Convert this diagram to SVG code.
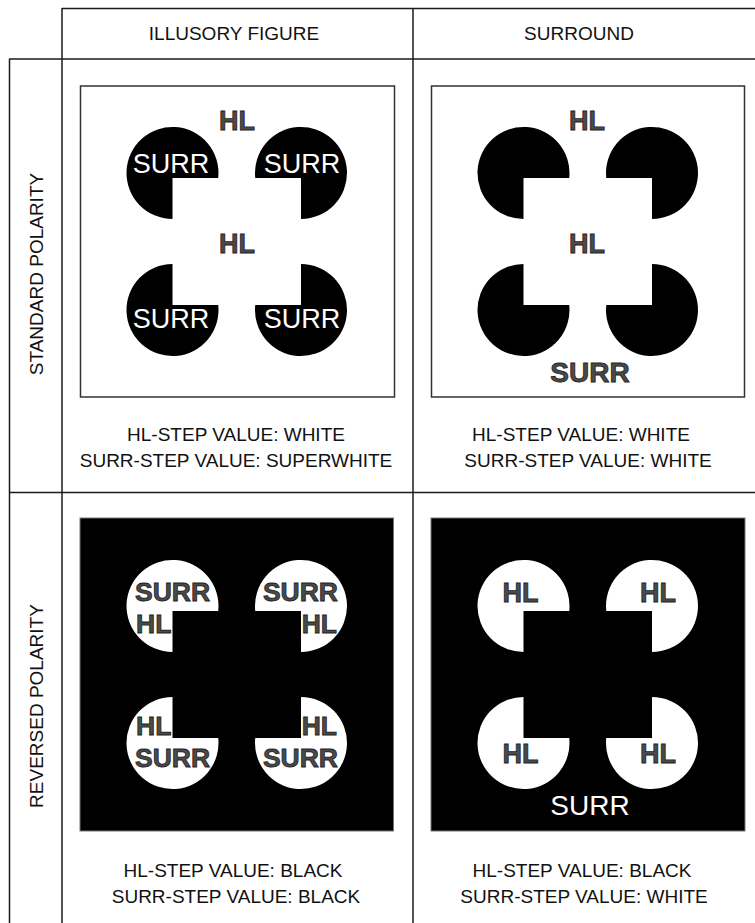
<svg xmlns="http://www.w3.org/2000/svg" xmlns:xlink="http://www.w3.org/1999/xlink" width="755" height="923" viewBox="0 0 755 923">
<style>
.grid line{stroke:#1a1a1a;stroke-width:1.5}
.lbl{font-family:"Liberation Sans",Arial,sans-serif;font-size:19px;fill:#111;text-anchor:middle}
.wbox{fill:#fff;stroke:#333;stroke-width:1.5}
.bbox{fill:#000;stroke:#777;stroke-width:1}
.dk{font-family:"Liberation Sans",Arial,sans-serif;font-weight:bold;fill:#4a4a4a;stroke:#1e1e1e;stroke-width:0.8}
.wt{font-family:"Liberation Sans",Arial,sans-serif;fill:#fff}
.m{text-anchor:middle}
.s{text-anchor:start}
.e{text-anchor:end}
</style>
<defs>
<path id="pac" d="M0,5 H45.73 A46,46 0 1 0 0,46 Z"/>
</defs>
<rect width="755" height="923" fill="#fff"/>
<g id="grid" class="grid">
<line x1="62" y1="8.5" x2="755" y2="8.5"/>
<line x1="9" y1="59" x2="755" y2="59"/>
<line x1="9.5" y1="59" x2="9.5" y2="923"/>
<line x1="62" y1="8" x2="62" y2="923"/>
<line x1="413" y1="8" x2="413" y2="923"/>
<line x1="9" y1="492.5" x2="755" y2="492.5"/>
</g>
<g id="headers">
<text class="lbl" x="234" y="40">ILLUSORY FIGURE</text>
<text class="lbl" x="579" y="40">SURROUND</text>
<text class="lbl" transform="translate(43,274) rotate(-90)">STANDARD POLARITY</text>
<text class="lbl" transform="translate(43,706) rotate(-90)">REVERSED POLARITY</text>
</g>
<g id="standard-illusory">
<rect class="wbox" x="80.5" y="86" width="314" height="311"/>
<use xlink:href="#pac" transform="translate(172.5,173)"/>
<use xlink:href="#pac" transform="translate(301,173) scale(-1,1)"/>
<use xlink:href="#pac" transform="translate(172.5,310) scale(1,-1)"/>
<use xlink:href="#pac" transform="translate(301,310) scale(-1,-1)"/>
<text class="dk m" x="237" y="130" font-size="27">HL</text>
<text class="dk m" x="237" y="253" font-size="27">HL</text>
<text class="wt m" x="171" y="173" font-size="27">SURR</text>
<text class="wt m" x="302" y="173" font-size="27">SURR</text>
<text class="wt m" x="171" y="328" font-size="27">SURR</text>
<text class="wt m" x="302" y="328" font-size="27">SURR</text>
<text class="lbl" x="236" y="441">HL-STEP VALUE: WHITE</text>
<text class="lbl" x="236" y="467">SURR-STEP VALUE: SUPERWHITE</text>
</g>
<g id="standard-surround">
<rect class="wbox" x="431.5" y="86" width="313" height="311"/>
<use xlink:href="#pac" transform="translate(523.5,173)"/>
<use xlink:href="#pac" transform="translate(652,173) scale(-1,1)"/>
<use xlink:href="#pac" transform="translate(523.5,310) scale(1,-1)"/>
<use xlink:href="#pac" transform="translate(652,310) scale(-1,-1)"/>
<text class="dk m" x="587" y="130" font-size="27">HL</text>
<text class="dk m" x="587" y="253" font-size="27">HL</text>
<text class="dk m" x="590" y="382" font-size="28">SURR</text>
<text class="lbl" x="581" y="441">HL-STEP VALUE: WHITE</text>
<text class="lbl" x="588" y="467">SURR-STEP VALUE: WHITE</text>
</g>
<g id="reversed-illusory">
<rect class="bbox" x="80" y="518" width="313.5" height="313"/>
<g fill="#fff">
<use xlink:href="#pac" transform="translate(172.5,606)"/>
<use xlink:href="#pac" transform="translate(301,606) scale(-1,1)"/>
<use xlink:href="#pac" transform="translate(172.5,743) scale(1,-1)"/>
<use xlink:href="#pac" transform="translate(301,743) scale(-1,-1)"/>
</g>
<text class="dk s" x="135" y="601" font-size="26.5">SURR</text>
<text class="dk s" x="136" y="633" font-size="26.5">HL</text>
<text class="dk e" x="338" y="601" font-size="26.5">SURR</text>
<text class="dk e" x="337" y="633" font-size="26.5">HL</text>
<text class="dk s" x="136" y="735" font-size="26.5">HL</text>
<text class="dk s" x="135" y="767" font-size="26.5">SURR</text>
<text class="dk e" x="337" y="735" font-size="26.5">HL</text>
<text class="dk e" x="338" y="767" font-size="26.5">SURR</text>
<text class="lbl" x="233" y="877">HL-STEP VALUE: BLACK</text>
<text class="lbl" x="236" y="903">SURR-STEP VALUE: BLACK</text>
</g>
<g id="reversed-surround">
<rect class="bbox" x="431" y="518" width="314" height="313"/>
<g fill="#fff">
<use xlink:href="#pac" transform="translate(523.5,606)"/>
<use xlink:href="#pac" transform="translate(652,606) scale(-1,1)"/>
<use xlink:href="#pac" transform="translate(523.5,743) scale(1,-1)"/>
<use xlink:href="#pac" transform="translate(652,743) scale(-1,-1)"/>
</g>
<text class="dk m" x="520.5" y="602" font-size="27">HL</text>
<text class="dk m" x="658" y="602" font-size="27">HL</text>
<text class="dk m" x="520.5" y="763" font-size="27">HL</text>
<text class="dk m" x="658" y="763" font-size="27">HL</text>
<text class="wt m" x="590" y="815" font-size="28">SURR</text>
<text class="lbl" x="582" y="877">HL-STEP VALUE: BLACK</text>
<text class="lbl" x="584" y="903">SURR-STEP VALUE: WHITE</text>
</g>
</svg>
